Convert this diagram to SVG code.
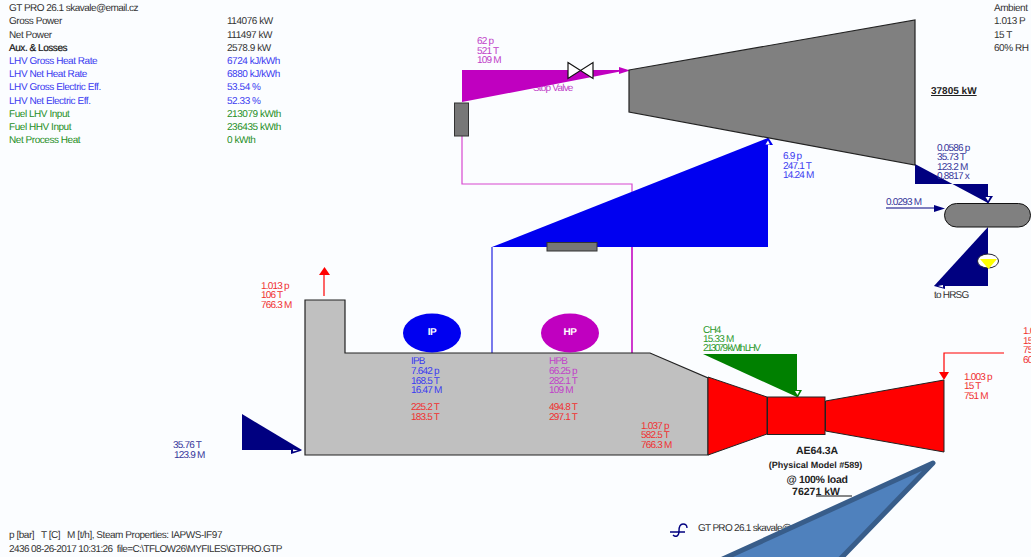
<svg xmlns="http://www.w3.org/2000/svg" width="1031" height="557" viewBox="0 0 1031 557">
<style>
text{font-family:"Liberation Sans",Arial,sans-serif;font-size:10px;letter-spacing:-.45px;white-space:pre;text-rendering:geometricPrecision}
.k{fill:#333}.b{fill:#3a3af0}.g{fill:#1f8f1f}.r{fill:#f03030}.m{fill:#c040c8}.n{fill:#35359a}.dg{fill:#2c9a2c}
.tight text,text.tight{letter-spacing:-.8px}
.sh{stroke:#222;stroke-width:1.2}
.bold,.bold text{font-weight:bold;fill:#222}
</style>
<rect width="1031" height="557" fill="#fbfdff"/>
<g id="summary">
<text x="9" y="11" class="k" textLength="129">GT PRO 26.1 skavale@email.cz</text>
<text x="9" y="24" class="k">Gross Power</text><text x="227" y="24" class="k">114076 kW</text>
<text x="9" y="38" class="k">Net Power</text><text x="227" y="38" class="k">111497 kW</text>
<text x="9" y="51" fill="#111" style="stroke:#111;stroke-width:.2">Aux. &amp; Losses</text><text x="227" y="51" class="k">2578.9 kW</text>
<text x="9" y="64" class="b">LHV Gross Heat Rate</text><text x="227" y="64" class="b">6724 kJ/kWh</text>
<text x="9" y="77" class="b">LHV Net Heat Rate</text><text x="227" y="77" class="b">6880 kJ/kWh</text>
<text x="9" y="90" class="b">LHV Gross Electric Eff.</text><text x="227" y="90" class="b">53.54 %</text>
<text x="9" y="104" class="b">LHV Net Electric Eff.</text><text x="227" y="104" class="b">52.33 %</text>
<text x="9" y="117" class="g">Fuel LHV Input</text><text x="227" y="117" class="g">213079 kWth</text>
<text x="9" y="130" class="g">Fuel HHV Input</text><text x="227" y="130" class="g">236435 kWth</text>
<text x="9" y="143" class="g">Net Process Heat</text><text x="227" y="143" class="g">0 kWth</text>
</g>
<g id="ambient">
<text x="994" y="11" class="k">Ambient</text><text x="994" y="24" class="k">1.013 P</text><text x="994" y="38" class="k">15 T</text><text x="994" y="51" class="k">60% RH</text>
</g>
<g id="connectors" fill="none">
<path d="M462 136V184H632V353" stroke="#d848d0" stroke-width="1.2"/>
<path d="M492 247V353" stroke="#2222e0" stroke-width="1.2"/>
<path d="M632 247V353" stroke="#c000c0" stroke-width="1.2"/>
<path d="M324 296V272" stroke="#f00" stroke-width="1.2"/>
<path d="M319 275H330L324.500 267Z" fill="#f00"/>
<path d="M886 208H936" stroke="#000080" stroke-width="1.2"/>
<path d="M934 205L945 208.500L934 212Z" fill="#000080"/>
<path d="M1004 353H944V373" stroke="#f00" stroke-width="1.2"/>
<path d="M939 372H949L944 380Z" fill="#f00"/>
</g>
<g id="steam-lines">
<text x="533" y="91" class="m tight">Stop Valve</text>
<path d="M462 70H628L462 102Z" fill="#c000c0"/>
<path d="M619 67L630 70.500L619 74Z" fill="#c000c0"/>
<path d="M492 247L768 138V247Z" fill="#0000f0"/>
<path d="M763 145H773L768 137Z" fill="#0000f0"/><path d="M765.500 144.500H770L768 140.500Z" fill="#fff"/>
<path d="M915 164V184H988V203Z" fill="#000080"/>
<path d="M983 196H993L988 204Z" fill="#000080"/><path d="M985.500 197H990L988 201Z" fill="#fff"/>
<path d="M988 227V286H934Z" fill="#000080"/>
<path d="M945 283V289L934 286Z" fill="#000080"/><path d="M943 285V287.500L938 286Z" fill="#fff"/>
<path d="M703 354H797V397Z" fill="#008000"/>
<path d="M793 390H802L797.500 398Z" fill="#008000"/><path d="M795 391H799.500L797.500 395Z" fill="#fff"/>
<path d="M242 414V450H302Z" fill="#000080"/>
<path d="M291 447L302 450.500L291 454Z" fill="#000080"/><path d="M293 449.500V451.500L298 450.500Z" fill="#fff"/>
</g>
<g id="steam-turbine"><path d="M629 70L915 20V165L629 112Z" fill="#808080" class="sh"/></g>
<g id="valve"><path d="M568 62.500L593 78.500V62.500L568 78.500Z" fill="#fff" stroke="#111" stroke-width="1.2"/></g>
<g id="reheater"><rect x="454.500" y="103" width="14" height="33" fill="#777" stroke="#333" stroke-width="1"/></g>
<g id="ip-heater"><rect x="547" y="242.500" width="50" height="8.500" fill="#777" stroke="#333" stroke-width="1"/></g>
<g id="hrsg"><path d="M305 300H345V353H650L708 378V455H305Z" fill="#c0c0c0" stroke="#222" stroke-width="1.2"/></g>
<g id="ip-drum"><ellipse cx="432" cy="333" rx="29" ry="19.500" fill="#0000f0"/><text x="432" y="335" text-anchor="middle" fill="#fff" style="font-weight:bold">IP</text></g>
<g id="hp-drum"><ellipse cx="570" cy="333" rx="29" ry="19.500" fill="#c000c0"/><text x="570" y="335" text-anchor="middle" fill="#fff" style="font-weight:bold">HP</text></g>
<g id="gas-turbine" fill="#f00" stroke="#222" stroke-width="1">
<path d="M708 377L767 397V434L708 455Z"/>
<rect x="767.500" y="397" width="57.500" height="37.500"/>
<path d="M825.500 401L944 380V452L825.500 431Z"/>
</g>
<g id="condenser"><rect x="944.500" y="203.500" width="86" height="23.500" rx="12" fill="#808080" stroke="#111" stroke-width="1"/></g>
<g id="pump"><ellipse cx="988" cy="261" rx="10.500" ry="7" fill="#fff" stroke="#223" stroke-width="1"/><path d="M980 259H997L988.500 269Z" fill="#ff0"/></g>
<g id="labels">
<g class="m tight"><text x="477" y="44">62 p</text><text x="477" y="54">521 T</text><text x="477" y="63">109 M</text></g>
<text x="931" y="94" class="bold" text-decoration="underline" style="letter-spacing:0">37805 kW</text>
<g class="n tight"><text x="937" y="151">0.0586 p</text><text x="937" y="160">35.73 T</text><text x="937" y="170">123.2 M</text><text x="937" y="179">0.8817 x</text>
<text x="886" y="205">0.0293 M</text><text x="173" y="448">35.76 T</text><text x="174" y="458">123.9 M</text></g>
<g class="b tight"><text x="783" y="159">6.9 p</text><text x="783" y="169">247.1 T</text><text x="783" y="178">14.24 M</text>
<text x="411" y="364">IPB</text><text x="411" y="374">7.642 p</text><text x="411" y="384">168.5 T</text><text x="411" y="393">16.47 M</text></g>
<text x="934" y="298" class="k tight">to HRSG</text>
<g class="m tight"><text x="549" y="364">HPB</text><text x="549" y="374">66.25 p</text><text x="549" y="384">282.1 T</text><text x="549" y="393">109 M</text></g>
<g class="r tight"><text x="411" y="410">225.2 T</text><text x="411" y="420">183.5 T</text><text x="549" y="410">494.8 T</text><text x="549" y="420">297.1 T</text>
<text x="641" y="429">1.037 p</text><text x="641" y="438">582.5 T</text><text x="641" y="448">766.3 M</text>
<text x="261" y="289">1.013 p</text><text x="261" y="298">106 T</text><text x="261" y="308">766.3 M</text>
<text x="964" y="380">1.003 p</text><text x="964" y="389">15 T</text><text x="964" y="399">751 M</text>
<text x="1023" y="334">1.013 p</text><text x="1023" y="344">15 T</text><text x="1023" y="353">751 M</text><text x="1023" y="363">60% RH</text></g>
<g class="dg tight"><text x="703" y="333">CH4</text><text x="703" y="342">15.33 M</text><text x="703" y="351" textLength="57">213079 kWth LHV</text></g>
<g class="bold" text-anchor="middle"><text x="817" y="454" style="font-size:10.500px;letter-spacing:-.1px">AE64.3A</text><text x="815.500" y="468" style="font-size:9px;letter-spacing:0">(Physical Model #589)</text><text x="817" y="483" style="font-size:10.500px;letter-spacing:-.3px">@ 100% load</text><text x="816" y="495" style="font-size:10.500px;letter-spacing:0">76271 kW</text></g>
<path d="M816 496H852" stroke="#111" stroke-width="1"/>
<text x="9" y="538" class="k" textLength="213">p [bar]   T [C]   M [t/h], Steam Properties: IAPWS-IF97</text>
<text x="9" y="552" class="k" textLength="273">2436 08-26-2017 10:31:26  file=C:\TFLOW26\MYFILES\GTPRO.GTP</text>
<text x="698" y="531" class="k" style="letter-spacing:-.7px">GT PRO 26.1 skavale@email.cz</text>
</g>
<g id="logo" fill="none" stroke="#000080" stroke-width="1.4"><path d="M670 532H685M673 535Q675 537 677 536Q679 535 679 531Q679 524 683 524Q687 524 687 528"/></g>
<g id="callout"><path d="M933 463L600 615V640H762Z" fill="#4f81bd" stroke="#385d8a" stroke-width="5" stroke-linejoin="round"/></g>
</svg>
